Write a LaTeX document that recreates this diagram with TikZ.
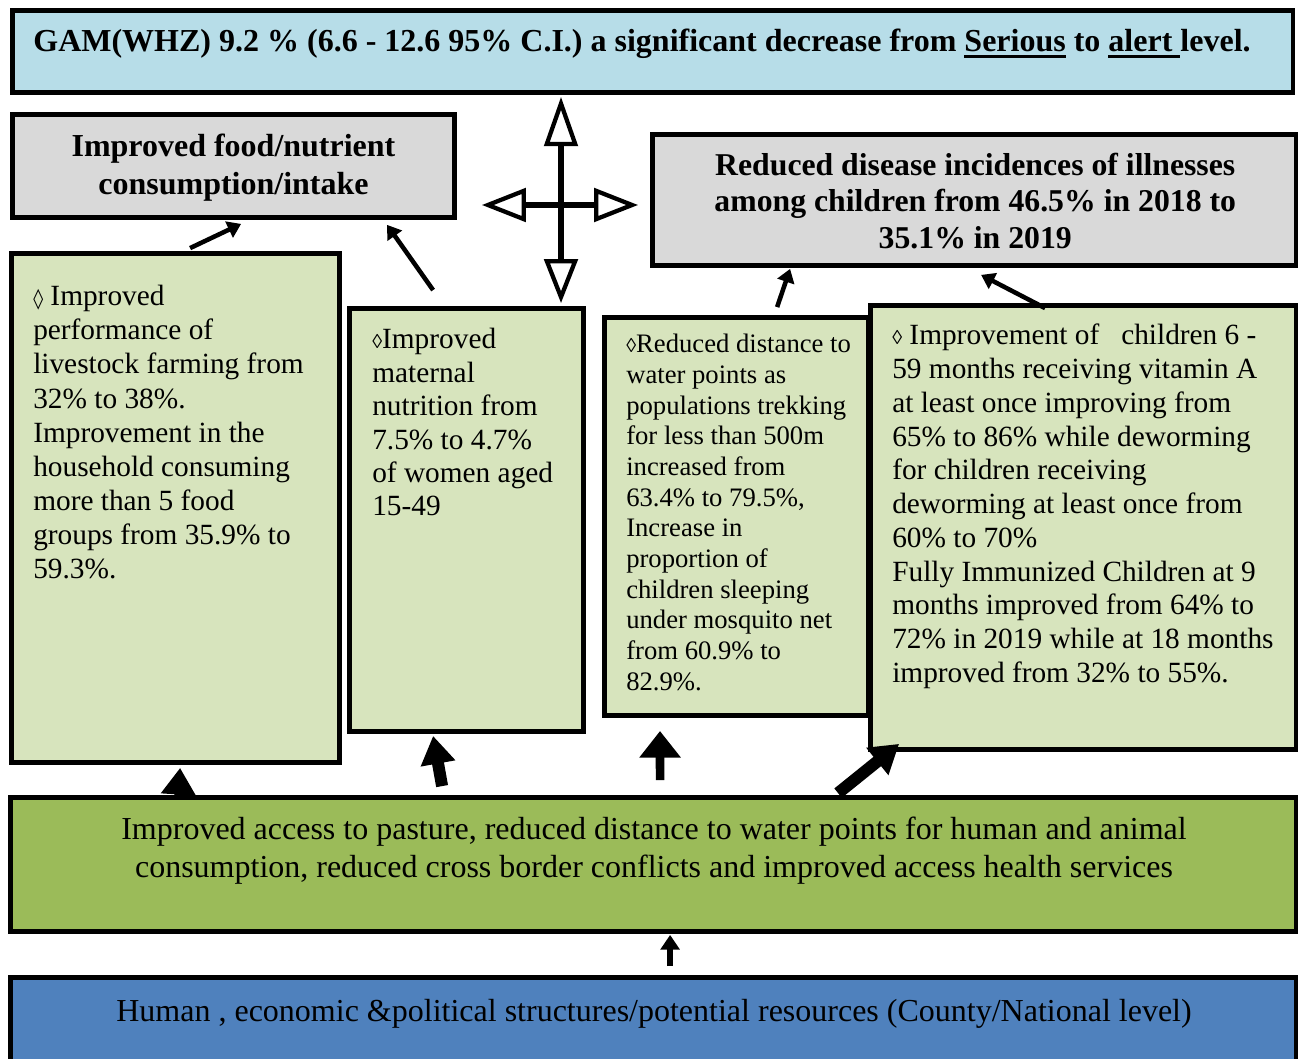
\documentclass[tikz,border=0pt]{standalone}
\usepackage{fontspec}
\setmainfont{Liberation Serif}
\newfontfamily\dmdfont{DejaVu Sans}
\usepackage{tikz}
\usetikzlibrary{positioning,arrows.meta,calc,fit}
\definecolor{skybg}{HTML}{B7DDE8}
\definecolor{greybg}{HTML}{D9D9D9}
\definecolor{leafbg}{HTML}{D7E4BD}
\definecolor{grassbg}{HTML}{9BBB59}
\definecolor{basebg}{HTML}{4F81BD}
\newsavebox{\ulbox}
\newcommand{\thickul}[1]{\sbox{\ulbox}{#1}\rlap{\rule[-4.5pt]{\wd\ulbox}{2.2pt}}\usebox{\ulbox}}
\newcommand{\bigdmd}{{\dmdfont\fontsize{15}{15}\selectfont\bfseries ◊}}
\newcommand{\smdmd}{{\fontsize{15}{15}\selectfont ◊}}

\begin{document}
\begin{tikzpicture}[x=0.75pt,y=-0.75pt,
  box/.style={draw=black,line width=3.6pt,inner sep=0pt},
  hdr/.style={font=\bfseries\fontsize{24}{28.5}\selectfont,align=center,text=black},
  plain/.style={font=\fontsize{24}{28.5}\selectfont,align=center,text=black},
  txt/.style={font=\fontsize{22}{25.6}\selectfont,align=left,anchor=north west,inner sep=0pt},
  arr/.style={line width=3.4pt,-{Triangle[length=10pt,width=13pt]}},
  fat/.style={line width=9pt,-{Triangle[length=21pt,width=25pt]}},
  cross/.style={line width=5pt,-{Triangle[open,length=33pt,width=25pt,line width=3.2pt]}}]
  \path[use as bounding box,clip] (0,0) rectangle (1300,1059);

  % top outcome
  \node[box,fill=skybg,fit={(12.5,10.5) (1293,92.5)}] (gam) {};
  \node[hdr,anchor=base] (gamtxt) at (642,52) {GAM(WHZ) 9.2 \% (6.6 - 12.6 95\% C.I.) a significant decrease from \thickul{Serious} to \thickul{alert\ }level.};

  % immediate causes
  \node[box,fill=greybg,fit={(12.5,114.5) (454.5,217.5)}] (food) {};
  \node[hdr] (foodtxt) at ($(food.center)+(0,2)$) {Improved food/nutrient\\consumption/intake};
  \node[box,fill=greybg,fit={(652.5,134.5) (1296,265.5)}] (dis) {};
  \node[hdr,font=\bfseries\fontsize{23.8}{27.5}\selectfont] (distxt) at ($(dis.center)+(1,1)$) {Reduced disease incidences of illnesses\\among children from 46.5\% in 2018 to\\35.1\% in 2019};

  % underlying causes
  \node[box,fill=leafbg,fit={(11.5,253.5) (339.5,762.5)}] (b1) {};
  \node[txt] (b1txt) at (33,285) {\bigdmd\ Improved\\performance of\\livestock farming from\\32\% to 38\%.\\Improvement in the\\household consuming\\more than 5 food\\groups from 35.9\% to\\59.3\%.};
  \node[box,fill=leafbg,fit={(349.5,308.5) (583.5,731.5)}] (b2) {};
  \node[txt,font=\fontsize{22}{25.1}\selectfont] (b2txt) at (372,328) {\smdmd Improved\\maternal\\nutrition from\\7.5\% to 4.7\%\\of women aged\\15-49};
  \node[box,fill=leafbg,fit={(604.5,317.5) (868.5,715.5)}] (b3) {};
  \node[txt,font=\fontsize{20}{23}\selectfont] (b3txt) at (626,334) {\smdmd Reduced distance to\\water points as\\populations trekking\\for less than 500m\\increased from\\63.4\% to 79.5\%,\\Increase in\\proportion of\\children sleeping\\under mosquito net\\from 60.9\% to\\82.9\%.};
  \node[box,fill=leafbg,fit={(870.5,305.5) (1296,749.5)}] (b4) {};
  \node[txt,font=\fontsize{22}{25.3}\selectfont] (b4txt) at (892,324) {\smdmd\ Improvement of~~~children 6 -\\59 months receiving vitamin A\\at least once improving from\\65\% to 86\% while deworming\\for children receiving\\deworming at least once from\\60\% to 70\%\\Fully Immunized Children at 9\\months improved from 64\% to\\72\% in 2019 while at 18 months\\improved from 32\% to 55\%.};

  % basic causes
  \node[box,fill=grassbg,fit={(10.5,797.5) (1296,931.5)}] (grn) {};
  \node[plain] (grntxt) at (654,851) {Improved access to pasture, reduced distance to water points for human and animal\\consumption, reduced cross border conflicts and improved access health services};
  \node[box,fill=basebg,fit={(10.5,977.5) (1296,1080)}] (hum) {};
  \node[plain,anchor=base] (humtxt) at (654,1021) {Human , economic \&political structures/potential resources (County/National level)};

  % cross
  \coordinate (hub) at (561,205);
  \draw[cross,-{Triangle[open,length=37pt,width=25pt,line width=3.2pt]}] (hub) -- ($(hub |- gam.south)+(0,2)$);
  \draw[cross] (hub) -- ($(hub |- b2.north)+(0,-3)$);
  \draw[cross] (hub) -- ($(hub -| food.east)+(25,0)$);
  \draw[cross] (hub) -- ($(hub -| dis.west)+(-12,0)$);

  % arrows up
  \draw[arr] ($(b1.north west)+(181,-3)$) -- ($(food.south west)+(231,4)$);
  \draw[arr] ($(b2.north west)+(86,-16)$) -- ($(food.south west)+(377,5)$);
  \draw[arr] ($(b3.north west)+(175,-8)$) -- ($(dis.south west)+(140,1)$);
  \draw[arr] ($(b4.north west)+(177,5)$) -- ($(dis.south west)+(331,7)$);

  \draw[fat,line width=6pt,-{Triangle[length=20pt,width=25pt]}] ($(grn.north west)+(170,3)$) -- ($(b1.south west)+(171,3)$);
  \draw[fat] ($(grn.north west)+(434,-9)$) -- ($(b2.south west)+(86,2)$);
  \coordinate (g3tip) at (660,731);
  \draw[fat,line width=6.5pt,-{Triangle[length=20pt,width=30pt]}] ($(grn.north west)+(652,-15)$) -- (g3tip);
  \draw[fat] ($(grn.north west)+(830,-2)$) -- ($(b4.south west)+(31,-8)$);
  \draw[fat,line width=4.5pt,-{Triangle[length=11pt,width=14pt]}] ($(hum.north west)+(662,-9)$) -- ($(grn.south west)+(662,1)$);
\end{tikzpicture}
\end{document}
